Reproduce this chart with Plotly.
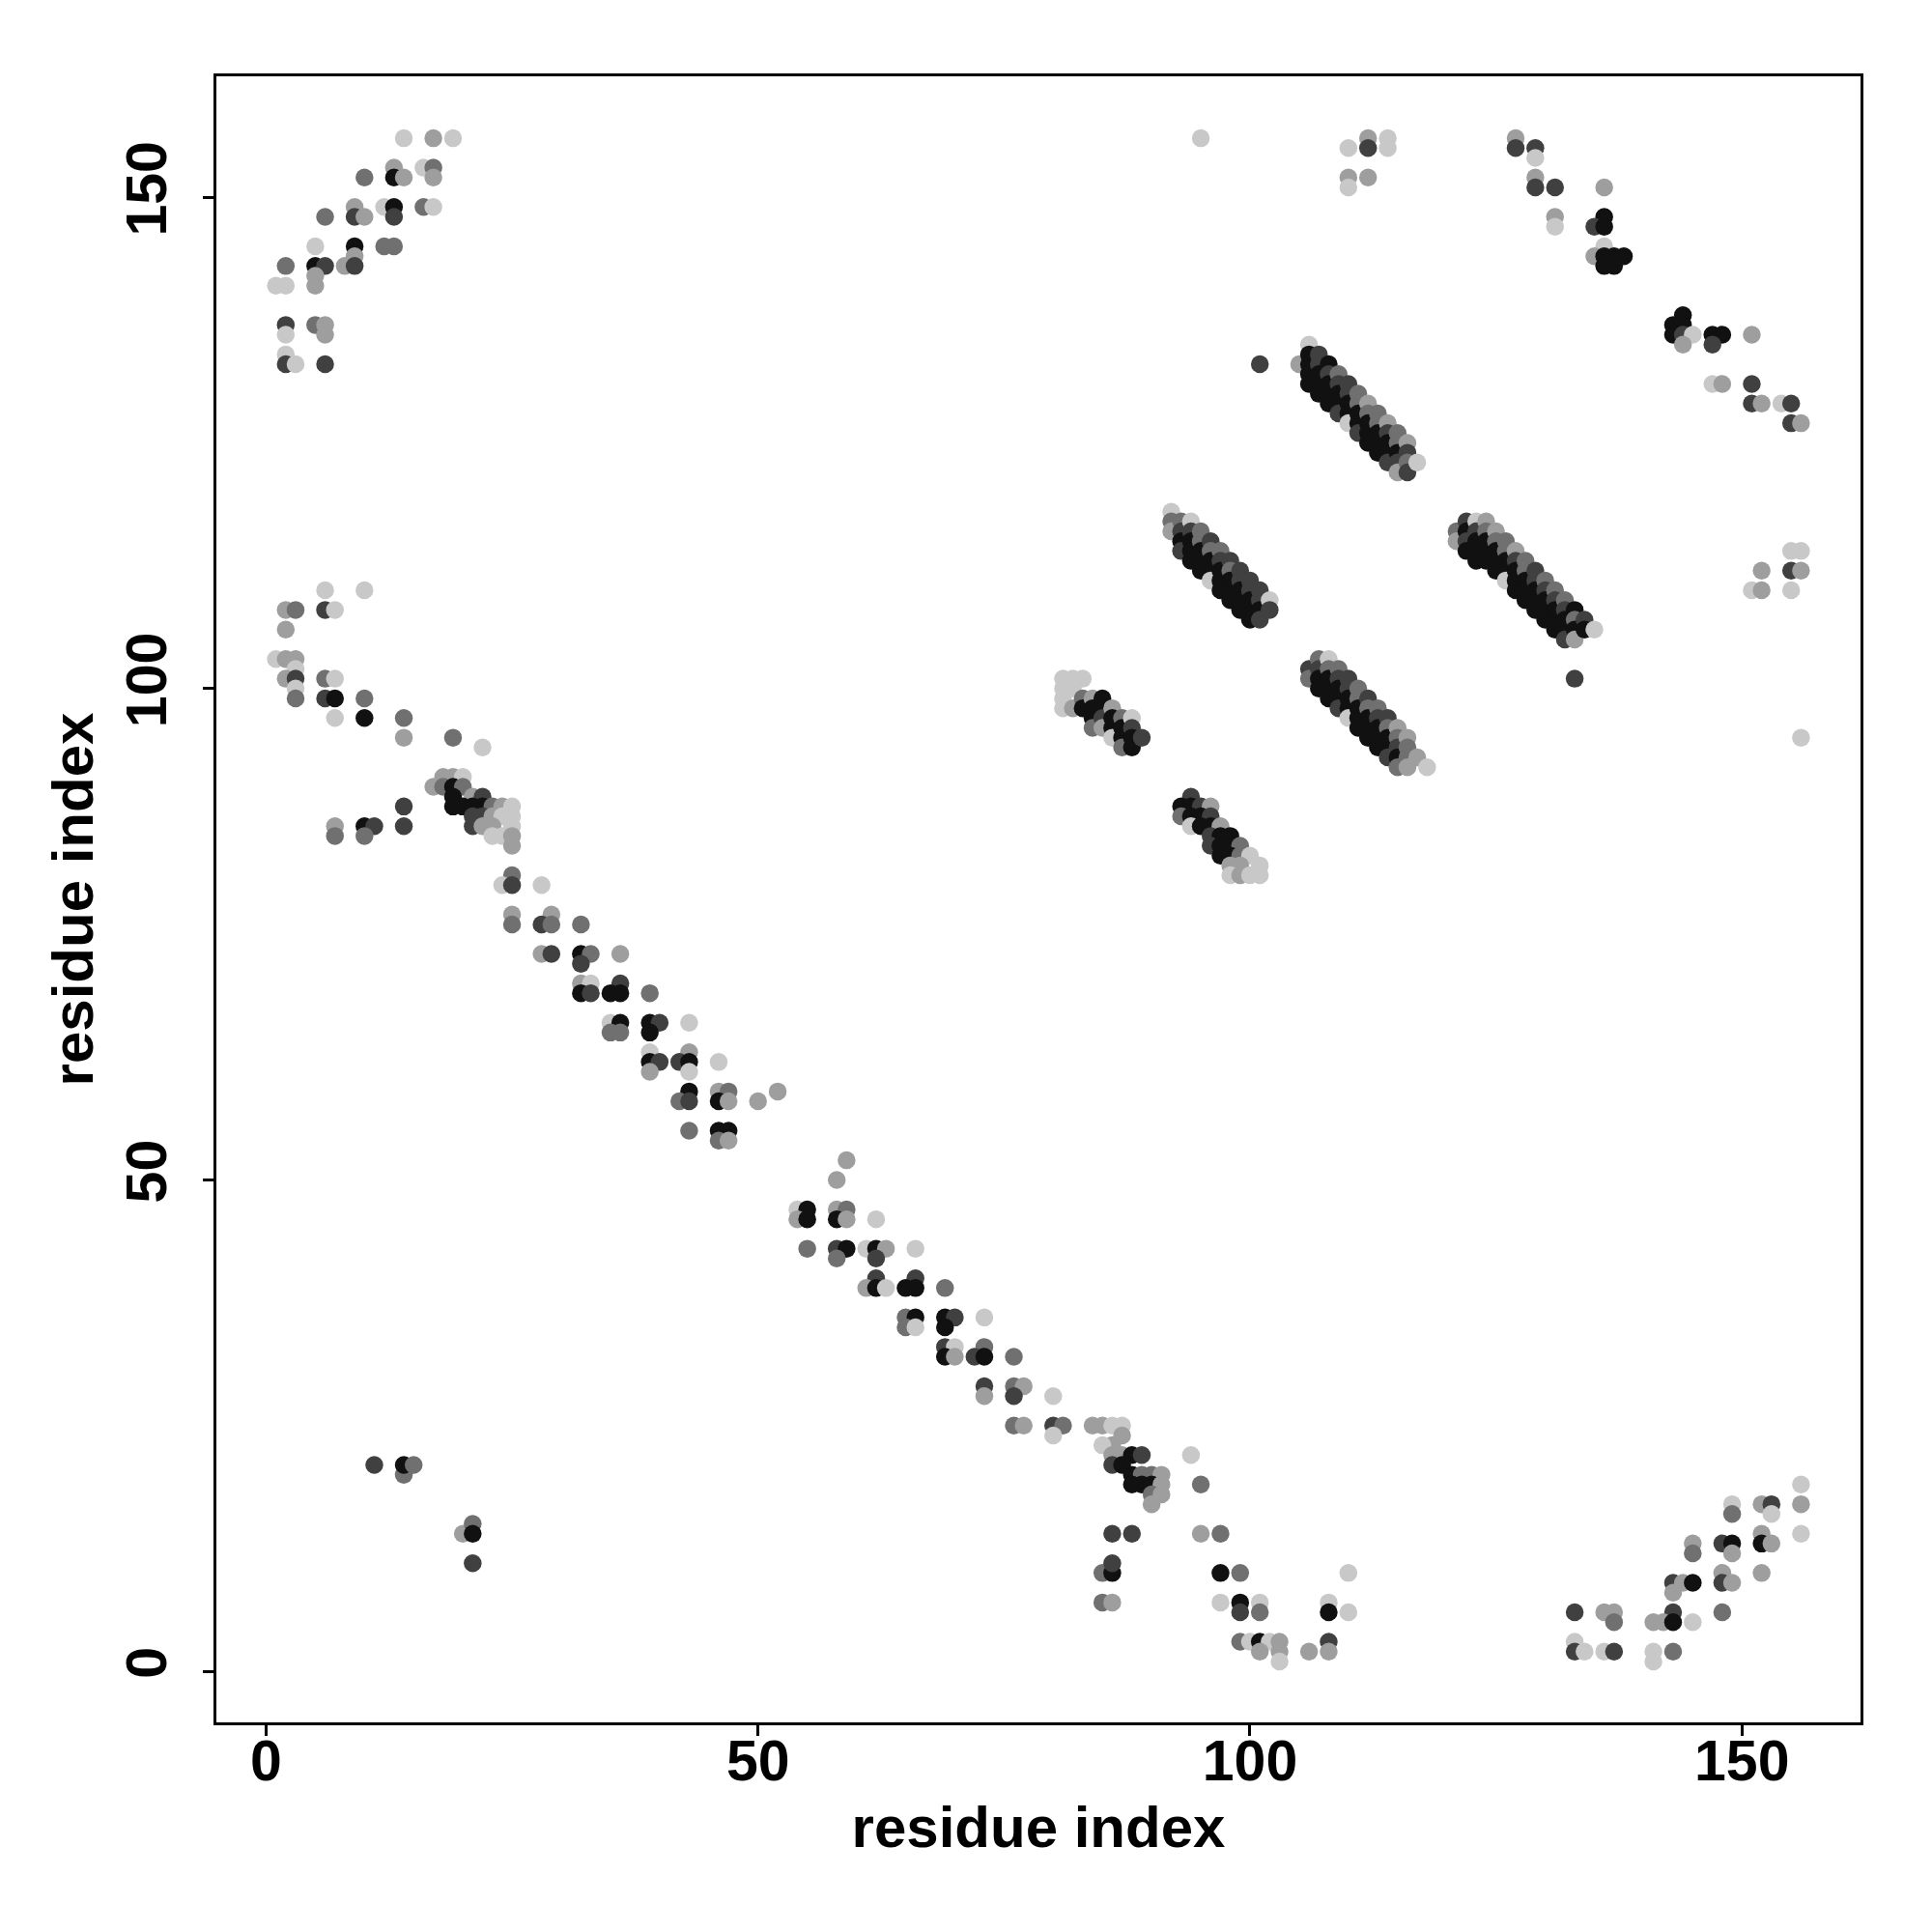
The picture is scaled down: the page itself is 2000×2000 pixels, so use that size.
import plotly.graph_objects as go

# (residue i, residue j, shade level) ; shade 1 = black ... 5 = light grey
top_left = [
    (14,156,5),(17,156,4),(19,156,5),
    (13,153,4),(16,153,5),(17,153,3),
    (10,152,3),(13,152,1),(14,152,4),(17,152,4),
    (9,149,4),(12,149,5),(13,149,1),(16,149,3),(17,149,5),
    (6,148,3),(9,148,2),(10,148,4),(13,148,2),
    (5,145,5),(9,145,1),(12,145,3),(13,145,3),
    (9,144,4),
    (2,143,3),(5,143,1),(6,143,2),(8,143,4),(9,143,2),
    (5,142,4),
    (1,141,5),(2,141,5),(5,141,4),
    (2,137,2),(5,137,3),(6,137,4),
    (2,136,5),(6,136,4),
    (2,134,5),
    (2,133,2),(3,133,5),(6,133,2),
]

left_mid = [
    (6,110,5),(10,110,5),
    (2,108,4),(3,108,3),(6,108,2),(7,108,5),
    (2,106,4),
    (1,103,5),(2,103,4),(3,103,4),
    (3,102,5),
    (2,101,4),(3,101,2),(6,101,3),(7,101,5),
    (3,100,5),
    (3,99,3),(6,99,2),(7,99,1),(10,99,3),
    (7,97,5),(10,97,1),(14,97,3),
    (14,95,4),(19,95,3),
    (22,94,5),
    (14,88,2),(14,86,2),
    (7,86,4),(10,86,1),(11,86,2),
    (7,85,3),(10,85,3),
]

diag_upper = [
    (18,91,4),(19,91,4),(20,91,5),
    (17,90,4),(18,90,3),(19,90,1),(20,90,3),
    (19,89,1),(21,89,4),(22,89,2),
    (19,88,1),(20,88,1),(21,88,1),(22,88,1),(23,88,3),(24,88,4),(25,88,5),
    (21,87,2),(22,87,2),(23,87,4),(24,87,5),(25,87,5),
    (21,86,2),(22,86,4),(23,86,4),(25,86,5),
    (23,85,5),(24,85,5),(25,85,4),
    (25,84,4),
    (25,81,3),
    (24,80,5),(25,80,2),(28,80,5),
]

diag_mid = [
    (25,77,4),(29,77,4),
    (25,76,3),(28,76,2),(29,76,3),(32,76,3),
    (28,73,4),(29,73,2),(32,73,1),(33,73,3),(36,73,4),
    (32,72,2),
    (32,70,4),(33,70,5),(36,70,2),
    (32,69,1),(33,69,2),(35,69,1),(36,69,1),(39,69,3),
    (35,66,5),(36,66,1),(39,66,1),(40,66,2),(43,66,5),
    (35,65,3),(36,65,3),(39,65,1),
    (39,63,5),(43,63,4),
    (39,62,1),(40,62,2),(42,62,2),(43,62,1),(46,62,5),
    (39,61,4),(43,61,5),
    (43,59,1),(46,59,4),(47,59,3),(52,59,4),
    (42,58,3),(43,58,2),(46,58,1),(47,58,4),(50,58,4),
    (43,55,3),(46,55,1),(47,55,1),
    (46,54,3),(47,54,4),
]

diag_lower = [
    (59,52,4),
    (58,50,4),
    (54,47,5),(55,47,1),(58,47,4),(59,47,3),
    (54,46,4),(55,46,1),(58,46,1),(59,46,4),(62,46,5),
    (55,43,3),(58,43,2),(59,43,1),(61,43,5),(62,43,1),(63,43,4),(66,43,5),
    (58,42,3),(62,42,2),
    (62,40,2),(66,40,2),
    (61,39,4),(62,39,1),(63,39,5),(65,39,1),(66,39,1),(69,39,3),
    (65,36,3),(66,36,1),(69,36,1),(70,36,2),(73,36,5),
    (65,35,3),(66,35,5),(69,35,1),
    (69,33,2),(70,33,5),(73,33,3),
    (69,32,1),(70,32,4),(72,32,2),(73,32,1),(76,32,3),
    (73,29,2),(76,29,3),(77,29,4),
    (73,28,4),(76,28,2),(80,28,5),
    (76,25,3),(77,25,4),(80,25,2),(81,25,3),(84,25,4),(85,25,4),(86,25,5),(87,25,5),
    (80,24,5),
    (86,23,4),(87,24,4),(85,23,5),(86,22,4),(87,22,4),(88,22,1),(89,22,2),
    (86,21,2),(87,21,1),(88,20,1),(89,20,3),(90,20,3),(91,20,4),
    (88,19,1),(89,19,1),(90,19,1),(91,19,4),(90,18,3),(91,18,4),(90,17,4),
    (94,22,5),(95,19,3),
    (86,14,2),(88,14,2),(95,14,4),(97,14,3),
]

bottom_left = [
    (11,21,2),(14,20,3),(14,21,1),(15,21,3),
    (20,14,4),(21,15,3),(21,14,1),(21,11,2),
]

bottom_mid = [
    (85,10,3),(86,10,1),(86,11,2),(97,10,1),(99,10,3),(110,10,5),
    (85,7,3),(86,7,4),(97,7,5),(99,7,1),(101,7,5),(108,7,5),
    (99,6,2),(101,6,3),(108,6,1),(110,6,5),
    (99,3,3),(100,3,5),(101,3,1),(102,3,5),(103,3,4),(108,3,2),
    (101,2,4),(103,2,4),(106,2,4),(108,2,4),
    (103,1,5),
]

bottom_right = [
    (156,19,5),
    (149,17,5),(152,17,4),(153,17,2),(156,17,4),
    (149,16,3),(153,16,5),
    (156,14,5),(152,14,4),
    (145,13,4),(148,13,2),(149,13,1),(152,13,1),(153,13,4),
    (145,12,3),(149,12,4),
    (148,10,4),(152,10,4),
    (143,9,2),(144,9,4),(145,9,1),(148,9,2),(149,9,4),
    (143,8,4),
    (133,6,2),(136,6,4),(137,6,4),(143,6,2),(148,6,3),
    (137,5,3),(141,5,4),(142,5,4),(143,5,1),(145,5,5),
    (133,3,5),
    (133,2,2),(134,2,5),(136,2,5),(137,2,2),(141,2,5),(143,2,3),
    (141,1,5),
]

top_right = [
    (95,156,5),(112,156,4),(114,156,5),(127,156,4),
    (110,155,5),(112,155,2),(114,155,5),(127,155,2),(129,155,2),
    (129,154,5),
    (110,152,4),(112,152,4),(129,152,4),
    (110,151,5),(129,151,2),(131,151,2),(136,151,4),
    (131,148,4),(136,148,1),
    (131,147,5),(135,147,2),(136,147,1),
    (136,145,5),
    (135,144,4),(136,144,1),(137,144,1),(138,144,1),
    (136,143,1),(137,143,1),
    (144,138,1),
    (143,137,1),(144,137,1),
    (143,136,1),(144,136,2),(145,136,5),(147,136,1),(148,136,1),(151,136,4),
    (144,135,4),(147,135,2),
    (147,131,5),(148,131,4),(151,131,2),
    (151,129,2),(152,129,4),(154,129,5),(155,129,2),
    (155,127,2),(156,127,4),
    (101,133,2),(105,133,4),
]

right_mid = [
    (155,114,5),(156,114,5),
    (152,112,4),(155,112,2),(156,112,4),
    (151,110,5),(152,110,4),(155,110,5),
    (156,95,5),(133,101,2),
]

strand_a = [
    (106,135,5),(106,134,1),(106,133,1),(106,132,1),(106,131,1),
    (107,134,2),(107,133,2),(107,132,1),(107,131,1),(107,130,1),
    (108,133,1),(108,132,2),(108,131,1),(108,130,1),(108,129,1),
    (109,132,3),(109,131,2),(109,130,1),(109,129,1),(109,128,2),
    (110,131,2),(110,130,2),(110,129,1),(110,128,1),(110,127,5),
    (111,130,3),(111,129,3),(111,128,1),(111,127,1),(111,126,2),
    (112,129,4),(112,128,3),(112,127,1),(112,126,1),(112,125,1),
    (113,128,3),(113,127,3),(113,126,1),(113,125,1),(113,124,1),
    (114,127,4),(114,126,2),(114,125,1),(114,124,1),(114,123,2),
    (115,126,3),(115,125,3),(115,124,1),(115,123,2),(115,122,4),
    (116,125,4),(116,124,2),(116,123,3),(116,122,2),
    (117,123,5),
]

strand_b = [
    (92,118,5),(92,117,3),(92,116,4),
    (93,117,3),(93,116,2),(93,115,1),(93,114,2),
    (94,117,5),(94,116,2),(94,115,1),(94,114,1),(94,113,1),
    (95,116,3),(95,115,3),(95,114,1),(95,113,1),(95,112,1),
    (96,115,2),(96,114,3),(96,113,1),(96,112,1),(96,111,5),
    (97,114,3),(97,113,2),(97,112,1),(97,111,1),(97,110,1),
    (98,113,2),(98,112,3),(98,111,1),(98,110,1),(98,109,1),
    (99,112,2),(99,111,2),(99,110,1),(99,109,1),(99,108,1),
    (100,111,2),(100,110,2),(100,109,1),(100,108,1),(100,107,1),
    (101,110,2),(101,109,2),(101,108,1),(101,107,2),
    (102,109,5),(102,108,2),
]

strand_c = [
    (121,116,3),(121,115,4),
    (122,117,2),(122,116,1),(122,115,2),(122,114,1),
    (123,117,5),(123,116,2),(123,115,1),(123,114,1),(123,113,1),
    (124,117,4),(124,116,3),(124,115,1),(124,114,1),(124,113,1),
    (125,116,4),(125,115,3),(125,114,1),(125,113,1),(125,112,1),
    (126,115,3),(126,114,3),(126,113,1),(126,112,1),(126,111,5),
    (127,114,4),(127,113,2),(127,112,1),(127,111,1),(127,110,1),
    (128,113,3),(128,112,3),(128,111,1),(128,110,1),(128,109,1),
    (129,112,2),(129,111,2),(129,110,1),(129,109,1),(129,108,1),
    (130,111,3),(130,110,2),(130,109,1),(130,108,1),(130,107,1),
    (131,110,3),(131,109,2),(131,108,1),(131,107,1),(131,106,1),
    (132,109,3),(132,108,2),(132,107,1),(132,106,1),(132,105,2),
    (133,108,1),(133,107,3),(133,106,1),(133,105,4),
    (134,107,2),(134,106,1),
    (135,106,5),
]

strand_d = [
    (106,102,2),(106,101,3),
    (107,103,3),(107,102,2),(107,101,1),(107,100,1),
    (108,103,5),(108,102,3),(108,101,1),(108,100,1),(108,99,1),
    (109,102,3),(109,101,2),(109,100,1),(109,99,1),(109,98,2),
    (110,101,2),(110,100,2),(110,99,1),(110,98,1),(110,97,5),
    (111,100,3),(111,99,3),(111,98,1),(111,97,1),(111,96,1),
    (112,99,2),(112,98,3),(112,97,1),(112,96,1),(112,95,1),
    (113,98,3),(113,97,2),(113,96,1),(113,95,1),(113,94,1),
    (114,97,2),(114,96,3),(114,95,1),(114,94,1),(114,93,2),
    (115,96,4),(115,95,3),(115,94,2),(115,93,1),(115,92,3),
    (116,95,4),(116,94,3),(116,93,3),(116,92,4),
    (117,93,4),(118,92,5),
]

strand_e = [
    (81,101,5),(82,101,5),(83,101,5),(81,100,5),(81,99,5),(82,100,5),(81,98,5),(82,98,4),
    (83,99,3),(83,98,1),(84,99,4),(84,98,1),(84,97,1),(84,96,3),
    (85,99,1),(85,98,1),(85,97,2),(85,96,4),
    (86,98,4),(86,97,1),(86,96,1),(86,95,5),
    (87,97,3),(87,96,1),(87,95,1),(87,94,3),
    (88,97,5),(88,96,2),(88,95,1),(88,94,1),(89,95,2),
]

strand_f = [
    (94,89,2),(93,88,1),(94,88,1),(95,88,2),(96,88,4),
    (93,87,3),(94,87,1),(95,87,1),(96,87,2),
    (94,86,5),(95,86,1),(96,86,1),(97,86,4),
    (96,85,2),(97,85,1),(98,85,1),
    (96,84,2),(97,84,1),(98,84,1),(99,84,3),
    (97,83,1),(98,83,1),(99,83,3),(100,83,5),
    (98,82,4),(99,82,4),(101,82,5),
    (98,81,5),(99,81,4),(100,81,5),(101,81,5),
]

GREYS = ["#111111", "#404040", "#707070", "#9e9e9e", "#c8c8c8"]

groups = [top_left, left_mid, diag_upper, diag_mid, diag_lower, bottom_left,
          bottom_mid, bottom_right, top_right, right_mid,
          strand_a, strand_b, strand_c, strand_d, strand_e, strand_f]
pts = [p for g in groups for p in g]
xs = [p[0] for p in pts]
ys = [p[1] for p in pts]
cols = [GREYS[p[2] - 1] for p in pts]

fig = go.Figure(go.Scatter(
    x=xs, y=ys, mode="markers",
    marker=dict(size=18.5, color=cols, line=dict(width=0)),
    hoverinfo="skip", showlegend=False,
))

FONT = "Liberation Sans, Arial, Helvetica, sans-serif"
axis_common = dict(
    showgrid=False, zeroline=False,
    showline=True, linecolor="black", linewidth=2.5, mirror=True,
    ticks="outside", ticklen=11, tickwidth=2.5, tickcolor="black",
    tickvals=[0, 50, 100, 150],
    tickfont=dict(family=FONT, size=59, color="black", weight="bold"),
)

fig.update_layout(
    width=2000, height=2000, autosize=False,
    paper_bgcolor="white", plot_bgcolor="white",
    margin=dict(l=216, r=82, t=71, b=225),
    xaxis=dict(range=[-5.05, 162.05], ticklabelstandoff=-25,
               title=dict(text="residue index", standoff=16,
                          font=dict(family=FONT, size=60, color="black", weight="bold")),
               **axis_common),
    yaxis=dict(range=[-5.2, 162.3], tickangle=-90, ticklabelstandoff=15,
               title=dict(text="residue index", standoff=3,
                          font=dict(family=FONT, size=60, color="black", weight="bold")),
               **axis_common),
)

fig.write_html("out.html")
